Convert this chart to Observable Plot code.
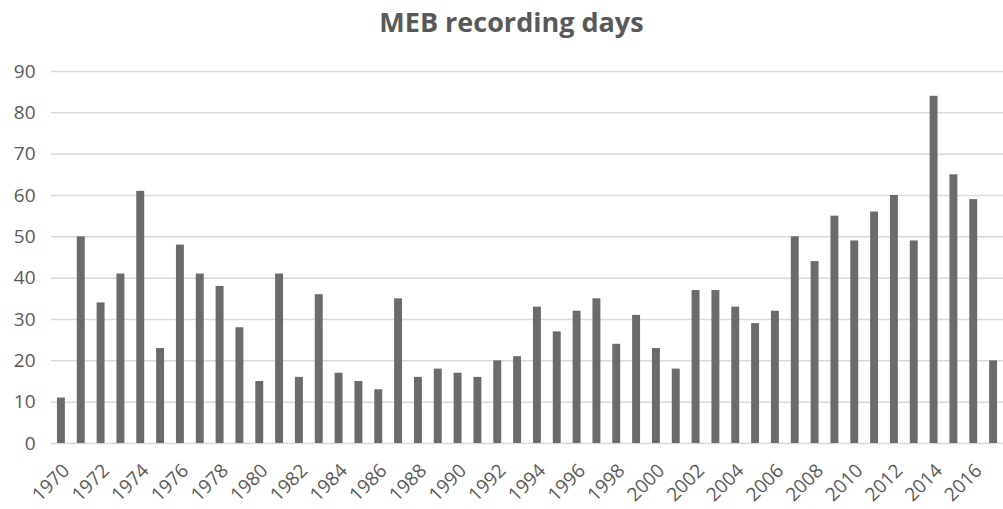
<!DOCTYPE html>
<html>
<head>
<meta charset="utf-8">
<script src="https://cdn.jsdelivr.net/npm/d3@7"></script>
<script src="https://cdn.jsdelivr.net/npm/@observablehq/plot@0.6"></script>
<style>
  html, body { margin: 0; padding: 0; background: #ffffff; overflow: hidden; }
  #title { height: 50px; line-height: 44px; text-align: center; font-family: "Open Sans", sans-serif; font-weight: bold; font-size: 27px; color: #595959; padding-left: 20px; }
  #chart { width: 1003px; }
  #chart svg { display: block; }
</style>
</head>
<body>
<div id="title">MEB recording days</div>
<div id="chart"></div>
<script>
const years = d3.range(1970, 2018);
const days = [11, 50, 34, 41, 61, 23, 48, 41, 38, 28, 15, 41, 16, 36, 17, 15, 13, 35, 16, 18, 17, 16, 20, 21, 33, 27, 32, 35, 24, 31, 23, 18, 37, 37, 33, 29, 32, 50, 44, 55, 49, 56, 60, 49, 84, 65, 59, 20];
const yTicks = [0, 10, 20, 30, 40, 50, 60, 70, 80, 90];
const xTickYears = years.filter(y => y % 2 === 0);

const data = years.map((y, i) => ({year: y, value: days[i]}));

const chart = Plot.plot({
  width: 1003,
  height: 459,
  marginTop: 21,
  marginBottom: 66,
  marginLeft: 51,
  marginRight: 0,
  style: {fontFamily: "Open Sans, sans-serif", color: "#595959", background: "#ffffff"},
  x: {type: "band", domain: years, paddingInner: 0.6, paddingOuter: 0.3, round: false, label: null},
  y: {domain: [0, 90], label: null},
  marks: [
    Plot.gridY(yTicks, {stroke: "#d9d9d9", strokeOpacity: 1, strokeWidth: 1.5}),
    Plot.barY(data, {x: "year", y: "value", fill: "#6b6b6b"}),
    Plot.axisY({ticks: yTicks, tickSize: 0, tickPadding: 16, fontSize: 19, fill: "#595959", label: null}),
    Plot.axisX({ticks: xTickYears, tickFormat: d => String(d), tickSize: 0, tickRotate: -45, tickPadding: 24, dx: 5, fontSize: 19, fill: "#595959", label: null})
  ]
});
document.getElementById("chart").appendChild(chart);
</script>
</body>
</html>
